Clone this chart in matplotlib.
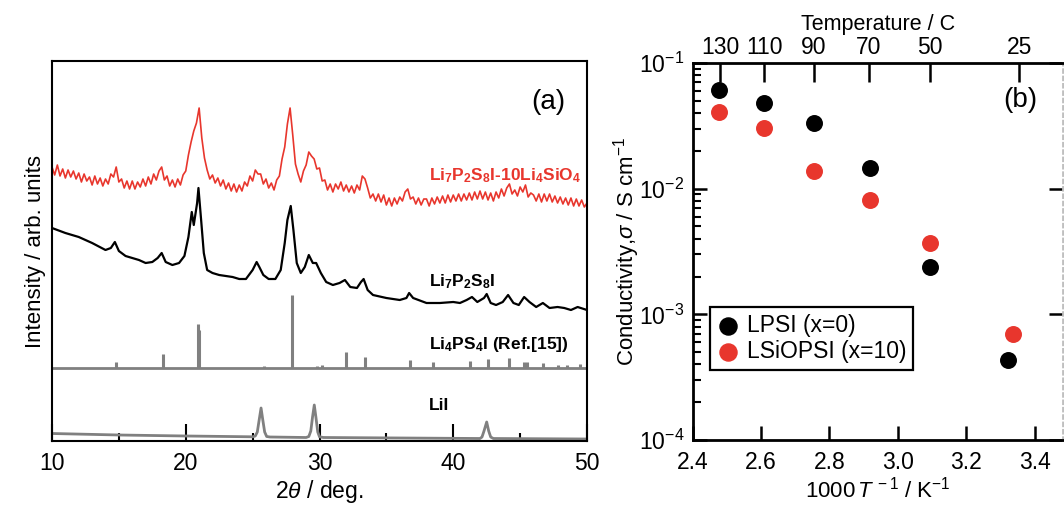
import numpy as np
import matplotlib
matplotlib.use('Agg')
import matplotlib.pyplot as plt
from matplotlib.ticker import MultipleLocator, LogLocator, NullFormatter

plt.rcParams['font.family'] = ['Liberation Sans', 'DejaVu Sans']
plt.rcParams['mathtext.fontset'] = 'custom'
plt.rcParams['mathtext.rm'] = 'Liberation Sans'
plt.rcParams['mathtext.it'] = 'Liberation Sans:italic'
plt.rcParams['mathtext.bf'] = 'Liberation Sans:bold'

RED = '#e8362d'
GREY = '#808080'

# ---------------- (a) XRD data (arbitrary units, offset stacked) ----------------
two_theta_red = [10.0 + 0.2 * i for i in range(201)]
lsio_counts = [
    274, 266, 276, 265, 272, 263, 271, 264, 270, 262,
    268, 259, 267, 260, 264, 256, 265, 257, 263, 255,
    262, 257, 267, 264, 274, 259, 262, 253, 260, 252,
    260, 252, 259, 254, 262, 255, 264, 257, 267, 261,
    270, 274, 261, 265, 255, 261, 254, 262, 256, 266,
    270, 286, 299, 310, 318, 333, 303, 283, 271, 262,
    266, 258, 263, 255, 261, 252, 258, 250, 257, 249,
    256, 250, 259, 255, 265, 260, 271, 267, 267, 257,
    262, 253, 258, 251, 261, 265, 282, 294, 317, 333,
    306, 277, 267, 259, 270, 276, 289, 285, 282, 272,
    273, 260, 261, 251, 257, 249, 257, 252, 259, 250,
    256, 249, 255, 248, 256, 251, 265, 262, 253, 243,
    247, 240, 247, 239, 246, 236, 243, 235, 243, 237,
    244, 240, 249, 252, 242, 244, 237, 243, 236, 242,
    242, 235, 243, 237, 244, 238, 245, 238, 246, 239,
    246, 240, 247, 240, 247, 241, 248, 241, 249, 242,
    250, 242, 249, 241, 248, 240, 249, 243, 252, 245,
    253, 257, 247, 251, 245, 254, 249, 256, 244, 248,
    246, 240, 247, 239, 247, 240, 247, 239, 245, 238,
    244, 237, 243, 236, 243, 235, 242, 235, 241, 234,
    238,
]

two_theta_lpsi = [10, 11, 12, 13, 14, 14.4, 14.7, 15, 15.5, 16, 16.5, 17, 17.5, 17.9,
                  18.2, 18.5, 19, 19.5, 19.9, 20.2, 20.45, 20.6, 20.85, 20.95, 21.15,
                  21.35, 21.6, 22, 22.5, 23, 23.5, 24, 24.5, 25, 25.3, 25.5, 25.8, 26.2,
                  26.7, 27.1, 27.4, 27.6, 27.85, 28.05, 28.3, 28.6, 28.9, 29.2, 29.5,
                  29.75, 30.1, 30.5, 31, 31.5, 31.9, 32.3, 32.8, 33.1, 33.3, 33.6, 34,
                  35, 36, 36.5, 36.7, 37, 38, 39, 40, 40.5, 41, 41.4, 41.8, 42.3, 42.5,
                  42.8, 43.2, 43.7, 44.1, 44.5, 44.9, 45.3, 45.7, 46.2, 46.7, 47.2, 47.8,
                  48.3, 48.8, 49.3, 50]
lpsi_counts = [213, 208, 204, 198, 191, 193, 199, 190, 185, 183, 181, 178, 179, 183,
               188, 179, 176, 178, 185, 204, 229, 216, 238, 253, 221,
               188, 171, 168, 166, 165, 164, 162, 162, 171, 179, 174, 166, 162,
               162, 171, 198, 221, 235, 211, 178, 168, 174, 186, 178,
               178, 168, 159, 156, 158, 161, 154, 153, 159, 162, 151, 146,
               143, 141, 143, 148, 143, 138, 138, 139, 138, 141, 144, 139, 143, 147,
               138, 136, 139, 146, 138, 136, 144, 139, 134, 138, 133, 134,
               133, 131, 134, 131]

ref_baseline = 73
ref_peaks = [14.79, 18.27, 20.90, 21.02, 25.85, 27.92, 29.85, 30.15, 31.96, 33.38,
             36.77, 38.51, 41.25, 42.57, 44.19, 45.31, 45.49, 46.68, 47.85, 48.47, 49.48]
ref_heights = [6, 14, 44, 38, 2, 73, 2, 3, 16, 11,
               8, 6, 7, 9, 10, 6, 6, 5, 3, 3, 4]

two_theta_lii = [10, 15, 20, 25, 25.2, 25.35, 25.5, 25.63, 25.75, 25.9, 26.05, 26.3,
                 29, 29.2, 29.35, 29.48, 29.61, 29.73, 29.87, 30.0, 30.3,
                 42, 42.15, 42.3, 42.5, 42.65, 42.8, 43.0, 50]
lii_counts = [7.5, 6, 5, 4.2, 5, 9, 22, 33, 22, 9, 4.5, 4,
              3.5, 4.5, 10, 24, 36, 24, 9, 4.2, 3.5,
              2.5, 4, 10, 19, 10, 4, 2.5, 2]

# ---------------- (b) conductivity data ----------------
temp_labels = [130, 110, 90, 70, 50, 25]
inv_t_lpsi = [2.477, 2.608, 2.755, 2.917, 3.093, 3.32]
sigma_lpsi = [0.0607, 0.048, 0.0335, 0.0147, 0.00238, 4.3e-4]
inv_t_lsiopsi = [2.477, 2.608, 2.755, 2.917, 3.093, 3.335]
sigma_lsiopsi = [0.041, 0.0305, 0.0139, 0.0081, 0.00368, 6.95e-4]

fig = plt.figure(figsize=(10.64, 5.08), dpi=100)

# ---------------- panel (a) ----------------
axa = fig.add_axes([52 / 1064, 67 / 508, 535 / 1064, 380 / 508])
axa.plot(two_theta_red, lsio_counts, color=RED, lw=1.2)
axa.plot(two_theta_lpsi, lpsi_counts, color='black', lw=1.6)
axa.hlines(ref_baseline, 10, 50, color=GREY, lw=2)
axa.vlines(ref_peaks, ref_baseline, np.array(ref_heights) + ref_baseline, color=GREY, lw=2.2)
axa.plot(two_theta_lii, lii_counts, color=GREY, lw=2)

axa.set_xlim(10, 50)
axa.set_ylim(0, 380)
axa.set_yticks([])
axa.xaxis.set_major_locator(MultipleLocator(10))
axa.xaxis.set_minor_locator(MultipleLocator(5))
axa.tick_params(axis='x', which='major', direction='in', length=12, width=1.5,
                labelsize=16.5, pad=8)
axa.tick_params(axis='x', which='minor', direction='in', length=6, width=1.5)
for s in axa.spines.values():
    s.set_linewidth(1.5)
axa.set_xlabel(r'2$\it{\theta}$ / deg.', fontsize=16.5, labelpad=2)
axa.set_ylabel('Intensity / arb. units', fontsize=16, labelpad=4)

lab_x = 38.2
axa.text(lab_x, 441 - 176, r'Li$_{\mathbf{7}}$P$_{\mathbf{2}}$S$_{\mathbf{8}}$I-10Li$_{\mathbf{4}}$SiO$_{\mathbf{4}}$',
         color=RED, fontsize=12.5, fontweight='bold', va='center', ha='left')
axa.text(lab_x, 441 - 282, r'Li$_{\mathbf{7}}$P$_{\mathbf{2}}$S$_{\mathbf{8}}$I',
         color='black', fontsize=12.5, fontweight='bold', va='center', ha='left')
axa.text(lab_x, 441 - 345, r'Li$_{\mathbf{4}}$PS$_{\mathbf{4}}$I (Ref.[15])',
         color='black', fontsize=12.5, fontweight='bold', va='center', ha='left')
axa.text(lab_x, 441 - 405, 'LiI', color='black', fontsize=12.5, fontweight='bold',
         va='center', ha='left')
axa.text(0.959, 0.892, '(a)', transform=axa.transAxes, fontsize=20, ha='right', va='center')

# ---------------- panel (b) ----------------
axb = fig.add_axes([692.5 / 1064, 68 / 508, 370.5 / 1064, 377 / 508])
axb.scatter(inv_t_lpsi, sigma_lpsi, s=125, color='black', label='LPSI (x=0)', zorder=3)
axb.scatter(inv_t_lsiopsi, sigma_lsiopsi, s=125, color=RED, label='LSiOPSI (x=10)', zorder=3)
axb.set_yscale('log')
axb.set_ylim(1e-4, 1e-1)
axb.set_xlim(2.4, 3.482)
axb.xaxis.set_major_locator(MultipleLocator(0.2))
axb.xaxis.set_major_formatter(matplotlib.ticker.FormatStrFormatter('%.1f'))
axb.yaxis.set_major_locator(LogLocator(base=10))
axb.yaxis.set_minor_locator(LogLocator(base=10, subs=np.arange(2, 10)))
axb.yaxis.set_minor_formatter(NullFormatter())
axb.tick_params(axis='x', which='major', direction='in', length=10, width=1.8,
                labelsize=16.5, pad=8, top=False)
axb.tick_params(axis='y', which='major', direction='in', length=10, width=1.8,
                labelsize=16.5, pad=6, right=True)
axb.tick_params(axis='y', which='minor', direction='in', length=6, width=1.5, right=False)
for name, s in axb.spines.items():
    s.set_linewidth(2)
axb.spines['right'].set_color('0.75')
axb.spines['right'].set_linestyle(':')
axb.set_xlabel(r'1000$\,\it{T}^{\,-1}$ / K$^{-1}$', fontsize=16, labelpad=2)
axb.set_ylabel(r'Conductivity,$\it{\sigma}$ / S cm$^{-1}$', fontsize=16)
axb.yaxis.set_label_coords(-0.135, 0.5)

axt = axb.twiny()
axt.set_xlim(axb.get_xlim())
axt.set_xticks([1000 / (t + 273.15) for t in temp_labels])
axt.set_xticklabels([str(t) for t in temp_labels])
axt.tick_params(axis='x', direction='in', length=14, width=1.8, labelsize=16.5, pad=3)
axt.set_xlabel('Temperature / C', fontsize=15.5, labelpad=4)
for s in axt.spines.values():
    s.set_visible(False)

leg = axb.legend(loc='upper left', bbox_to_anchor=(0.047, 0.353), fontsize=16.5,
                 frameon=True, fancybox=False, framealpha=1, edgecolor='black',
                 handletextpad=0.3, borderpad=0.3, labelspacing=0.15,
                 handlelength=1.0, borderaxespad=0, markerscale=1.1)
leg.get_frame().set_linewidth(1.6)
axb.text(0.884, 0.902, '(b)', transform=axb.transAxes, fontsize=20, ha='center', va='center')

fig.savefig('out.png', dpi=100)
